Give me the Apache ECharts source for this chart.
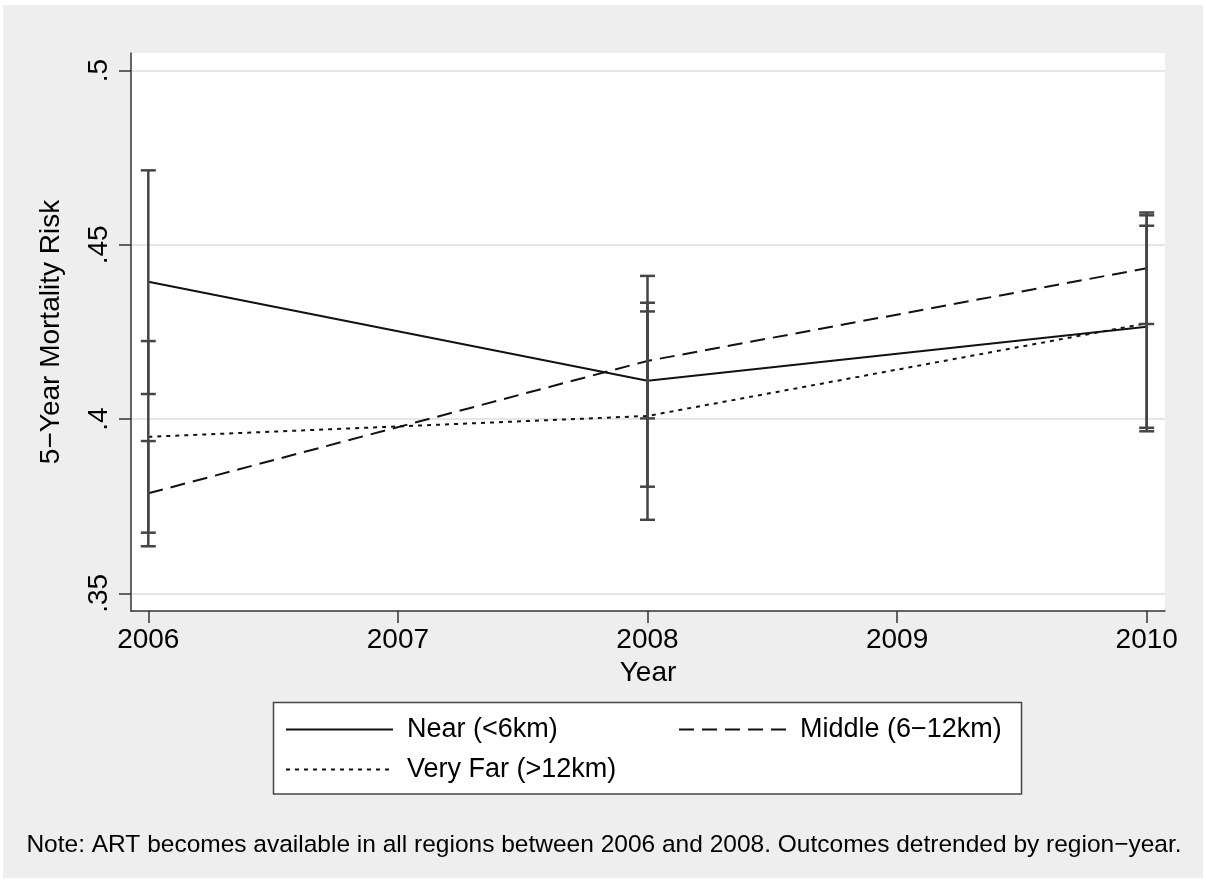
<!DOCTYPE html>
<html><head><meta charset="utf-8">
<script src="https://cdn.jsdelivr.net/npm/echarts@6/dist/echarts.min.js"></script>
<style>html,body{margin:0;padding:0;background:#fff}#c{width:1206px;height:882px}</style>
</head><body><div id="c"></div>
<script>
// ---- data ----
const years = [2006, 2008, 2010];
const xTicks = [2006, 2007, 2008, 2009, 2010];
const yTicks = [0.35, 0.40, 0.45, 0.50];
const yTickLabels = ['.35', '.4', '.45', '.5'];
const seriesNames = ['Near (<6km)', 'Middle (6\u221212km)', 'Very Far (>12km)'];
const nearMean = [0.4394, 0.4110, 0.4265];
const nearLow = [0.4072, 0.3806, 0.3975];
const nearHigh = [0.4714, 0.4411, 0.4555];
const middleMean = [0.3787, 0.4167, 0.4433];
const middleLow = [0.3635, 0.4002, 0.4273];
const middleHigh = [0.3937, 0.4334, 0.4593];
const farMean = [0.3949, 0.4009, 0.4275];
const farLow = [0.3674, 0.3711, 0.3965];
const farHigh = [0.4224, 0.4309, 0.4585];
const xTitle = 'Year';
const yTitle = '5\u2212Year Mortality Risk';
const noteText = 'Note: ART becomes available in all regions between 2006 and 2008. Outcomes detrended by region\u2212year.';

// ---- chart ----
const FONT = '"Liberation Sans", Arial, sans-serif';
const chart = echarts.init(document.getElementById('c'), null, {renderer: 'canvas'});
const means = [nearMean, middleMean, farMean];
const lows = [nearLow, middleLow, farLow];
const highs = [nearHigh, middleHigh, farHigh];
const dashes = ['solid', [15, 8], [4, 5]];

const lineSeries = seriesNames.map((n, i) => ({
  name: n, type: 'line', symbol: 'none', showSymbol: false, z: 3,
  data: years.map((y, j) => [y, means[i][j]]),
  lineStyle: {color: '#111', width: 2, type: dashes[i]},
  itemStyle: {color: '#111'}
}));
const ciSeries = seriesNames.map((n, i) => ({
  name: n + ' CI', type: 'custom', z: 4,
  data: years.map((y, j) => [y, lows[i][j], highs[i][j]]),
  encode: {x: 0, y: [1, 2]},
  renderItem: function (params, api) {
    const x = api.value(0);
    const p1 = api.coord([x, api.value(1)]);
    const p2 = api.coord([x, api.value(2)]);
    const hw = 7.5;
    const style = {stroke: '#454545', lineWidth: 2.5, fill: null};
    return {type: 'group', children: [
      {type: 'line', shape: {x1: p1[0], y1: p1[1], x2: p2[0], y2: p2[1]}, style: style},
      {type: 'line', shape: {x1: p1[0] - hw, y1: p1[1], x2: p1[0] + hw, y2: p1[1]}, style: style},
      {type: 'line', shape: {x1: p2[0] - hw, y1: p2[1], x2: p2[0] + hw, y2: p2[1]}, style: style}
    ]};
  }
}));

const legendBase = {
  orient: 'horizontal', padding: 0, itemWidth: 107, itemHeight: 14,
  itemStyle: {opacity: 0},
  textStyle: {fontFamily: FONT, fontSize: 27, color: '#000', padding: [0, 0, 0, 9]},
  selectedMode: false
};

chart.setOption({
  animation: false,
  backgroundColor: '#fff',
  textStyle: {fontFamily: FONT},
  graphic: [
    {type: 'rect', z: -10, shape: {x: 3, y: 5, width: 1200, height: 873}, style: {fill: '#eeeeee'}},
    {type: 'rect', z: 1, shape: {x: 273.5, y: 702.5, width: 748, height: 91.5}, style: {fill: '#fff', stroke: '#444', lineWidth: 1.5}},
    {type: 'text', z: 5, x: 604, y: 845, style: {text: noteText, fontFamily: FONT, fontSize: 24.5, fill: '#000', align: 'center', verticalAlign: 'middle'}}
  ],
  legend: [
    Object.assign({}, legendBase, {data: [seriesNames[0]], left: 285, top: 716, z: 5}),
    Object.assign({}, legendBase, {data: [seriesNames[1]], left: 678, top: 716, z: 5}),
    Object.assign({}, legendBase, {data: [seriesNames[2]], left: 285, top: 756, z: 5})
  ],
  grid: {left: 131, top: 53, right: 41, bottom: 271, show: true, backgroundColor: '#fff', borderWidth: 0},
  xAxis: {
    type: 'value', min: 2005.9307, max: 2010.0733,
    name: xTitle, nameLocation: 'middle', nameGap: 46,
    nameTextStyle: {fontFamily: FONT, fontSize: 28, color: '#000'},
    axisLine: {show: true, lineStyle: {color: '#333', width: 1.5}},
    axisTick: {show: true, length: 12, customValues: xTicks, lineStyle: {color: '#333', width: 1.5}},
    axisLabel: {customValues: xTicks, fontFamily: FONT, fontSize: 28, color: '#000', margin: 15,
      formatter: v => String(Math.round(v))},
    splitLine: {show: false}
  },
  yAxis: {
    type: 'value', min: 0.34492, max: 0.50508,
    name: yTitle, nameLocation: 'middle', nameGap: 66, nameRotate: 90,
    nameTextStyle: {fontFamily: FONT, fontSize: 28, color: '#000'},
    axisLine: {show: true, lineStyle: {color: '#333', width: 1.5}},
    axisTick: {show: true, length: 12, customValues: yTicks, lineStyle: {color: '#333', width: 1.5}},
    axisLabel: {customValues: yTicks, rotate: 90, fontFamily: FONT, fontSize: 28, color: '#000', margin: 18,
      formatter: v => { const k = yTicks.findIndex(t => Math.abs(t - v) < 1e-6); return k >= 0 ? yTickLabels[k] : ''; }},
    splitLine: {show: true, lineStyle: {color: '#e6e6e6', width: 2}}
  },
  series: lineSeries.concat(ciSeries)
});
</script></body></html>
